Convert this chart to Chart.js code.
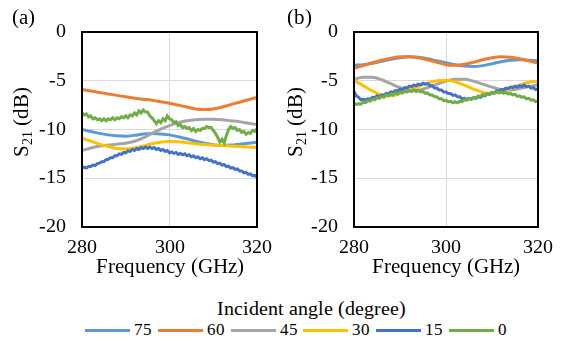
<!DOCTYPE html>
<html><head><meta charset="utf-8">
<script src="https://cdn.jsdelivr.net/npm/chart.js@4.4.1/dist/chart.umd.min.js"></script>
<style>
@font-face{font-family:'RefSerif';src:local('Liberation Serif'),local('LiberationSerif'),local('Liberation Serif Regular'),local('LiberationSerif-Regular'),local('Times New Roman');}
html,body{margin:0;padding:0;background:#fff;width:562px;height:338px;overflow:hidden;}
#wrap{position:relative;width:562px;height:338px;font-family:'RefSerif','Liberation Serif','Times New Roman',serif;color:#000;}
#ca{position:absolute;left:0;top:0;width:281px;height:290px;}
#cb{position:absolute;left:281px;top:0;width:281px;height:290px;}
#legTitle{position:absolute;left:0;width:622px;top:297px;text-align:center;font-size:20px;line-height:22px;white-space:nowrap;}
#leg{position:absolute;left:85px;top:320px;height:20px;font-size:17px;line-height:20px;white-space:nowrap;}
.item{position:absolute;top:0;display:flex;align-items:center;height:20px;}
.sw{width:45px;height:3px;margin-right:4px;}
</style></head>
<body><div id="wrap">
<canvas id="ca" width="281" height="290"></canvas>
<canvas id="cb" width="281" height="290"></canvas>
<div id="legTitle">Incident angle (degree)</div>
<div id="leg"></div>
</div>
<script>
// ---------- data ----------
const angles = ['75', '60', '45', '30', '15', '0'];
const xTicks = [280, 300, 320];
const yTicks = [-20, -15, -10, -5, 0];

const freqCoarse = [280,282,284,286,288,290,292,294,296,298,300,302,304,306,308,310,312,314,316,318,320];
const freqFine = [280,280.5,281,281.5,282,282.5,283,283.5,284,284.5,285,285.5,286,286.5,287,287.5,288,288.5,289,289.5,
  290,290.5,291,291.5,292,292.5,293,293.5,294,294.5,295,295.5,296,296.5,297,297.5,298,298.5,299,299.5,
  300,300.5,301,301.5,302,302.5,303,303.5,304,304.5,305,305.5,306,306.5,307,307.5,308,308.5,309,309.5,
  310,310.5,311,311.5,312,312.5,313,313.5,314,314.5,315,315.5,316,316.5,317,317.5,318,318.5,319,319.5,320];

// panel (a)
const a75 = [-10.0,-10.2,-10.4,-10.55,-10.65,-10.7,-10.6,-10.45,-10.4,-10.45,-10.55,-10.75,-10.95,-11.2,-11.4,-11.55,-11.65,-11.6,-11.5,-11.4,-11.3];
const a60 = [-5.9,-6.05,-6.2,-6.35,-6.5,-6.65,-6.8,-6.9,-7.0,-7.15,-7.3,-7.5,-7.7,-7.9,-7.95,-7.9,-7.7,-7.45,-7.2,-6.95,-6.7];
const a45 = [-12.15,-11.9,-11.7,-11.6,-11.5,-11.4,-11.2,-10.85,-10.4,-9.95,-9.6,-9.3,-9.1,-9.0,-8.95,-8.95,-9.0,-9.1,-9.2,-9.35,-9.5];
const a30 = [-10.9,-11.2,-11.5,-11.75,-11.95,-12.0,-11.9,-11.7,-11.45,-11.3,-11.2,-11.25,-11.35,-11.45,-11.55,-11.6,-11.65,-11.7,-11.75,-11.8,-11.85];
const a15 = [-13.95,-13.85,-13.95,-13.8,-13.8,-13.65,-13.7,-13.5,-13.45,-13.3,
  -13.3,-13.1,-13.05,-12.9,-12.9,-12.7,-12.7,-12.5,-12.55,-12.35,
  -12.4,-12.2,-12.25,-12.05,-12.15,-11.95,-12.05,-11.85,-11.95,-11.8,
  -11.95,-11.8,-11.95,-11.85,-12.05,-11.95,-12.15,-12.05,-12.25,-12.15,
  -12.4,-12.3,-12.45,-12.35,-12.55,-12.45,-12.6,-12.5,-12.7,-12.6,
  -12.8,-12.7,-12.9,-12.8,-13.0,-12.9,-13.1,-13.0,-13.2,-13.15,
  -13.35,-13.3,-13.5,-13.45,-13.65,-13.6,-13.8,-13.75,-13.95,-13.9,
  -14.1,-14.05,-14.25,-14.25,-14.45,-14.4,-14.6,-14.55,-14.75,-14.7,
  -14.9];
const a0 = [-8.3,-8.5,-8.4,-8.7,-8.6,-8.9,-8.8,-9.0,-8.9,-9.1,
  -8.9,-9.1,-8.9,-9.0,-8.8,-9.0,-8.8,-8.9,-8.7,-8.8,
  -8.6,-8.8,-8.5,-8.6,-8.3,-8.5,-8.1,-8.3,-8.0,-8.2,
  -8.2,-8.6,-8.8,-9.1,-9.4,-9.1,-9.3,-8.9,-9.1,-8.6,
  -8.9,-9.0,-9.3,-9.2,-9.6,-9.5,-9.8,-9.7,-9.9,-9.8,
  -10.1,-9.9,-10.2,-10.0,-10.1,-9.9,-9.9,-9.7,-9.8,-9.8,
  -10.1,-10.4,-10.8,-11.3,-11.0,-11.4,-10.6,-10.0,-9.7,-9.9,
  -9.8,-10.1,-10.0,-10.3,-10.2,-10.5,-10.3,-10.4,-10.1,-10.2,
  -9.9];

// panel (b)
const b75 = [-3.4,-3.35,-3.2,-3.0,-2.8,-2.65,-2.55,-2.6,-2.75,-2.95,-3.15,-3.35,-3.5,-3.55,-3.45,-3.25,-3.05,-2.9,-2.85,-2.9,-2.95];
const b60 = [-3.7,-3.45,-3.15,-2.9,-2.7,-2.55,-2.55,-2.65,-2.85,-3.1,-3.35,-3.4,-3.3,-3.1,-2.85,-2.65,-2.55,-2.6,-2.75,-2.95,-3.2];
const b45 = [-4.85,-4.65,-4.65,-4.9,-5.3,-5.7,-5.95,-5.95,-5.7,-5.35,-5.05,-4.85,-4.85,-5.05,-5.35,-5.65,-5.9,-5.95,-5.8,-5.6,-5.4];
const b30 = [-4.95,-5.5,-6.05,-6.45,-6.55,-6.3,-5.95,-5.6,-5.25,-5.0,-4.95,-5.1,-5.45,-5.85,-6.2,-6.3,-6.1,-5.8,-5.45,-5.15,-5.05];
const b15 = [-6.1,-6.55,-6.7,-6.95,-6.9,-7.0,-6.85,-6.9,-6.7,-6.75,
  -6.55,-6.65,-6.45,-6.5,-6.3,-6.35,-6.15,-6.2,-6.0,-6.05,
  -5.85,-5.9,-5.7,-5.75,-5.55,-5.6,-5.45,-5.5,-5.35,-5.4,
  -5.25,-5.35,-5.3,-5.5,-5.5,-5.75,-5.75,-5.95,-5.95,-6.15,
  -6.15,-6.3,-6.3,-6.5,-6.45,-6.65,-6.65,-6.85,-6.8,-6.9,
  -6.8,-6.9,-6.75,-6.8,-6.65,-6.7,-6.5,-6.55,-6.35,-6.4,
  -6.2,-6.25,-6.05,-6.1,-5.9,-5.95,-5.75,-5.8,-5.65,-5.7,
  -5.55,-5.65,-5.5,-5.6,-5.45,-5.6,-5.55,-5.75,-5.7,-5.9,
  -5.85];
const b0 = [-7.3,-7.45,-7.35,-7.4,-7.2,-7.25,-7.05,-7.1,-6.9,-6.95,
  -6.75,-6.8,-6.6,-6.7,-6.45,-6.55,-6.35,-6.45,-6.25,-6.35,
  -6.15,-6.25,-6.05,-6.15,-6.0,-6.1,-5.95,-6.1,-6.0,-6.15,
  -6.1,-6.3,-6.25,-6.45,-6.45,-6.65,-6.65,-6.85,-6.85,-7.05,
  -7.0,-7.15,-7.1,-7.25,-7.15,-7.25,-7.1,-7.15,-6.95,-7.0,
  -6.85,-6.9,-6.7,-6.75,-6.55,-6.6,-6.4,-6.5,-6.3,-6.4,
  -6.2,-6.3,-6.15,-6.25,-6.15,-6.3,-6.2,-6.35,-6.3,-6.45,
  -6.4,-6.6,-6.55,-6.7,-6.65,-6.85,-6.8,-7.0,-6.95,-7.15,
  -7.1];

// ---------- styles ----------
const COLORS = ['#5B9BD5', '#ED7D31', '#A5A5A5', '#FFC000', '#4472C4', '#70AD47'];
const FONT = "'RefSerif', 'Liberation Serif', 'Times New Roman', serif";
Chart.defaults.font.family = FONT;

function pts(fx, vals) { return fx.map((f, i) => ({ x: f, y: vals[i] })); }

function buildSets(series) {
  return series.map((s, i) => ({
    label: angles[i],
    data: pts(s.f, s.v),
    borderColor: COLORS[i],
    backgroundColor: COLORS[i],
    borderWidth: 3,
    pointRadius: 0,
    fill: false,
    tension: s.smooth ? 0.4 : 0,
    cubicInterpolationMode: s.smooth ? 'monotone' : 'default',
    order: 6 - i
  }));
}

const deco = {
  id: 'deco',
  afterDatasetsDraw(chart, args, o) {
    const ctx = chart.ctx, a = chart.chartArea;
    ctx.save();
    ctx.strokeStyle = '#000';
    ctx.lineWidth = 2;
    ctx.strokeRect(a.left, a.top, a.right - a.left, a.bottom - a.top);
    ctx.fillStyle = '#000';
    ctx.font = '21px ' + FONT;
    ctx.textAlign = 'center';
    ctx.textBaseline = 'alphabetic';
    ctx.fillText('Frequency (GHz)', (a.left + a.right) / 2, 273);
    ctx.textAlign = 'left';
    ctx.font = '21px ' + FONT;
    ctx.fillText(o.letter, o.letterX, 24);
    ctx.save();
    ctx.translate(o.titleX, 122);
    ctx.rotate(-Math.PI / 2);
    ctx.textAlign = 'left';
    ctx.font = '21px ' + FONT;
    const wS = ctx.measureText('S').width;
    const wR = ctx.measureText(' (dB)').width;
    ctx.font = '14px ' + FONT;
    const wSub = ctx.measureText('21').width;
    const x0 = -(wS + wSub + wR) / 2;
    ctx.font = '21px ' + FONT;
    ctx.fillText('S', x0, 0);
    ctx.font = '14px ' + FONT;
    ctx.fillText('21', x0 + wS, 4);
    ctx.font = '21px ' + FONT;
    ctx.fillText(' (dB)', x0 + wS + wSub, 0);
    ctx.restore();
    ctx.restore();
  }
};

function makeChart(id, series, yw, letter, letterX, titleX) {
  return new Chart(document.getElementById(id), {
    type: 'line',
    data: { datasets: buildSets(series) },
    plugins: [deco],
    options: {
      responsive: false,
      animation: false,
      layout: { padding: { top: 32, right: 16, left: 0, bottom: 0 } },
      plugins: { legend: { display: false }, tooltip: { enabled: false }, deco: { letter, letterX, titleX } },
      scales: {
        x: {
          type: 'linear', min: xTicks[0], max: xTicks[xTicks.length - 1],
          afterBuildTicks(s) { s.ticks = xTicks.map(v => ({ value: v })); },
          afterFit(s) { s.height = 63; },
          ticks: { autoSkip: false, maxRotation: 0, padding: 9, color: '#000', font: { family: FONT, size: 19.5 } },
          grid: { color: '#D9D9D9', lineWidth: 1, drawTicks: false },
          border: { display: false }
        },
        y: {
          type: 'linear', min: yTicks[0], max: yTicks[yTicks.length - 1],
          afterBuildTicks(s) { s.ticks = yTicks.map(v => ({ value: v })); },
          afterFit(s) { s.width = yw; },
          ticks: { padding: 16, color: '#000', font: { family: FONT, size: 19.5 } },
          grid: { color: '#D9D9D9', lineWidth: 1, drawTicks: false },
          border: { display: false }
        }
      }
    }
  });
}

const charts = [];
charts.push(makeChart('ca', [
  { f: freqCoarse, v: a75, smooth: true },
  { f: freqCoarse, v: a60, smooth: true },
  { f: freqCoarse, v: a45, smooth: true },
  { f: freqCoarse, v: a30, smooth: true },
  { f: freqFine, v: a15, smooth: false },
  { f: freqFine, v: a0, smooth: false }
], 82, '(a)', 12, 28));

charts.push(makeChart('cb', [
  { f: freqCoarse, v: b75, smooth: true },
  { f: freqCoarse, v: b60, smooth: true },
  { f: freqCoarse, v: b45, smooth: true },
  { f: freqCoarse, v: b30, smooth: true },
  { f: freqFine, v: b15, smooth: false },
  { f: freqFine, v: b0, smooth: false }
], 73, '(b)', 6, 21));

const leg = document.getElementById('leg');
angles.forEach((a, i) => {
  const it = document.createElement('div');
  it.className = 'item';
  it.style.left = (i * 72.8) + 'px';
  const sw = document.createElement('span');
  sw.className = 'sw';
  sw.style.background = COLORS[i];
  const t = document.createElement('span');
  t.textContent = a;
  it.appendChild(sw); it.appendChild(t);
  leg.appendChild(it);
});

// redraw once the serif face is ready
if (document.fonts && document.fonts.load) {
  Promise.all([document.fonts.load('20px RefSerif'), document.fonts.load('20px "Liberation Serif"')])
    .then(() => charts.forEach(c => c.update('none')))
    .catch(() => {});
}
</script>
</body></html>
